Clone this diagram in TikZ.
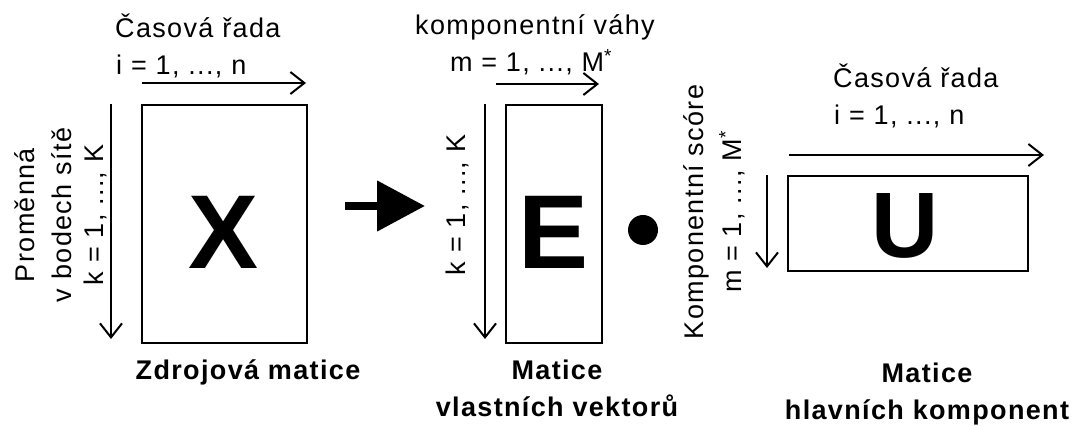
\documentclass[tikz,border=0pt]{standalone}
\usepackage{fontspec}
\setmainfont{Liberation Sans}[LetterSpace=5]
\usetikzlibrary{arrows.meta,calc}
\begin{document}
\begin{tikzpicture}[x=1pt, y=-1pt,
  txt/.style={inner sep=0pt, font=\fontsize{27}{30}\selectfont},
  btxt/.style={inner sep=0pt, font=\fontsize{27}{37}\selectfont\bfseries, align=center},
  matbox/.style={draw, line width=2pt, inner sep=0pt},
  bigletter/.style={inner sep=0pt, font=\fontsize{105}{105}\selectfont\bfseries},
  axis/.style={line width=2pt, -{Straight Barb[length=14pt, width=22pt, line width=2pt]}}]
\useasboundingbox (0,0) rectangle (1082,427);

% Zdrojova matice
\node[matbox, minimum width=165pt, minimum height=238pt] (X) at (224.5,224) {};
\node[bigletter] (Xl) at (223.5,232.5) {X};
\node[txt, anchor=base west] (Xt1) at (115,38) {Časová řada};
\node[txt, anchor=base west] (Xt2) at (116,75) {i = 1, ..., n};
\node[txt, rotate=90, align=center, font=\fontsize{27}{37}\selectfont] (Xv) at (43,215) {Proměnná\\v bodech sítě};
\node[txt, rotate=90] (Xk) at (95,215) {k = 1, ..., K};
\node[btxt, anchor=base] (Xn) at (248,380) {Zdrojová matice};
\draw[axis] ($(X.north west)+(1,-21)$) -- ($(X.north east)+(-2,-21)$);
\draw[axis] ($(X.north west)+(-30,0)$) -- ($(X.south west)+(-30,-5)$);

% Sipka
\coordinate (arrA) at (345,206);
\coordinate (arrB) at (425,206);
\draw[line width=8pt, -{Triangle[length=48pt, width=49pt]}] (arrA) -- (arrB);

% Matice vlastnich vektoru
\node[matbox, minimum width=96pt, minimum height=238pt] (E) at (554,224) {};
\node[bigletter] (El) at (553.5,232.5) {E};
\node[txt, anchor=base] (Et1) at (535,35) {komponentní váhy};
\node[txt, anchor=base] (Et2) at (531,72) {m = 1, ..., M\textsuperscript{*}};
\node[txt, rotate=90] (Ek) at (457,205) {k = 1, ..., K};
\node[btxt, anchor=base] (En) at (557,417) {Matice\\vlastních vektorů};
\draw[axis] ($(E.north west)+(-9,-20)$) -- ($(E.north east)+(-4,-20)$);
\draw[axis] ($(E.north west)+(-20,0)$) -- ($(E.south west)+(-20,-5)$);

% Tecka
\node[circle, fill, minimum size=30pt, inner sep=0pt] (dot) at (643,230) {};

% Matice hlavnich komponent
\node[matbox, minimum width=240pt, minimum height=95pt] (U) at (908,223.5) {};
\node[bigletter, font=\fontsize{93}{93}\selectfont\bfseries] (Ul) at (905,226) {U};
\node[txt, anchor=base west] (Ut1) at (833,88) {Časová řada};
\node[txt, anchor=base west] (Ut2) at (834,125) {i = 1, ..., n};
\node[txt, rotate=90, align=center, font=\fontsize{27}{38}\selectfont] (Uv) at (714,212) {Komponentní scóre\\m = 1, ..., M\textsuperscript{*}};
\node[btxt, anchor=base] (Un) at (927,420) {Matice\\hlavních komponent};
\draw[axis] ($(U.north west)+(2,-20)$) -- ($(U.north east)+(15,-20)$);
\draw[axis] ($(U.north west)+(-20,0)$) -- ($(U.south west)+(-20,-4)$);
\end{tikzpicture}
\end{document}
